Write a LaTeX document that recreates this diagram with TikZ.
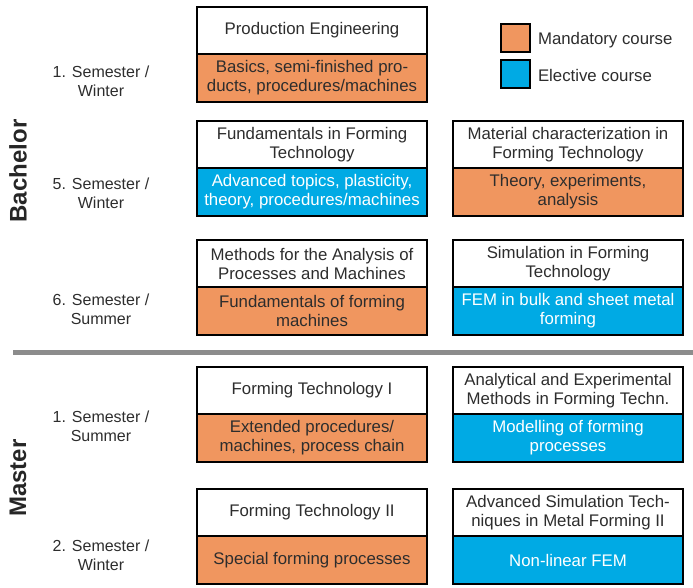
\documentclass[tikz,border=0pt]{standalone}
\usepackage{fontspec}
\setmainfont{Liberation Sans}
\usetikzlibrary{positioning}

\definecolor{mandatory}{RGB}{240,150,95}
\definecolor{elective}{RGB}{0,170,228}
\definecolor{txt}{RGB}{45,45,45}

\begin{document}
\begin{tikzpicture}[x=1pt,y=-1pt,
	every node/.style={font=\fontsize{16}{19}\selectfont,text=txt,align=center,inner sep=0pt,outer sep=0pt},
	course/.style={rectangle,draw=black,line width=2.5pt,minimum width=230pt,minimum height=47pt,fill=white,font=\fontsize{16.8}{19}\selectfont},
	mand/.style={course,fill=mandatory,minimum height=48pt},
	elec/.style={course,fill=elective,minimum height=48pt,text=white}]
	\useasboundingbox (0,0) rectangle (693,587);

	% separator between bachelor and master
	\draw [line width=5pt,color=black!45] (13,352) -- (693,352);

	\node [rotate=90,font=\fontsize{24}{28}\bfseries,text=black!85] (BA) at (18,171) {Bachelor};
	\node [rotate=90,font=\fontsize{24}{28}\bfseries,text=black!85] (MA) at (18,478) {Master};

	\begin{scope}
		\node (S1) at (101,81) {1. Semester /\\Winter};
		\node (S5) at (101,193) {5. Semester /\\Winter};
		\node (S6) at (101,309) {6. Semester /\\Summer};
		\node (S7) at (101,426) {1. Semester /\\Summer};
		\node (S8) at (101,555) {2. Semester /\\Winter};
	\end{scope}

	% legend
	\begin{scope}[every node/.append style={rectangle,draw=black,line width=2pt,minimum width=29pt,minimum height=28pt}]
		\node [fill=mandatory] (LM) at (515,37.5) {};
		\node [fill=elective] (LE) at (515,74) {};
	\end{scope}
	\node [anchor=west,font=\fontsize{16.8}{19}\selectfont] (LMt) at (538,40) {Mandatory course};
	\node [anchor=west,font=\fontsize{16.8}{19}\selectfont] (LEt) at (538,75) {Elective course};

	% courses
	\begin{scope}[every node/.append style={course}]
		\node [anchor=north] (A) at (312,7) {Production Engineering};
		\node [anchor=north] (B) at (312,121) {Fundamentals in Forming\\Technology};
		\node [anchor=north] (C) at (568,121) {Material characterization in\\Forming Technology};
		\node [anchor=north] (D) at (312,240) {Methods for the Analysis of\\Processes and Machines};
		\node [anchor=north] (E) at (568,240) {Simulation in Forming\\Technology};
		\node [anchor=north] (F) at (312,367) {Forming Technology I};
		\node [anchor=north] (G) at (568,367) {Analytical and Experimental\\Methods in Forming Techn.};
		\node [anchor=north] (H) at (312,489) {Forming Technology II};
		\node [anchor=north] (I) at (568,489) {Advanced Simulation Tech-\\niques in Metal Forming II};
	\end{scope}

	\node [mand,below=0pt of A] (A2) {Basics, semi-finished pro-\\ducts, procedures/machines};
	\node [elec,below=0pt of B] (B2) {Advanced topics, plasticity,\\theory, procedures/machines};
	\node [mand,below=0pt of C] (C2) {Theory, experiments,\\analysis};
	\node [mand,below=0pt of D] (D2) {Fundamentals of forming\\machines};
	\node [elec,below=0pt of E] (E2) {FEM in bulk and sheet metal\\forming};
	\node [mand,below=0pt of F] (F2) {Extended procedures/\\machines, process chain};
	\node [elec,below=0pt of G] (G2) {Modelling of forming\\processes};
	\node [mand,below=0pt of H] (H2) {Special forming processes};
	\node [elec,below=0pt of I] (I2) {Non-linear FEM};
\end{tikzpicture}
\end{document}
